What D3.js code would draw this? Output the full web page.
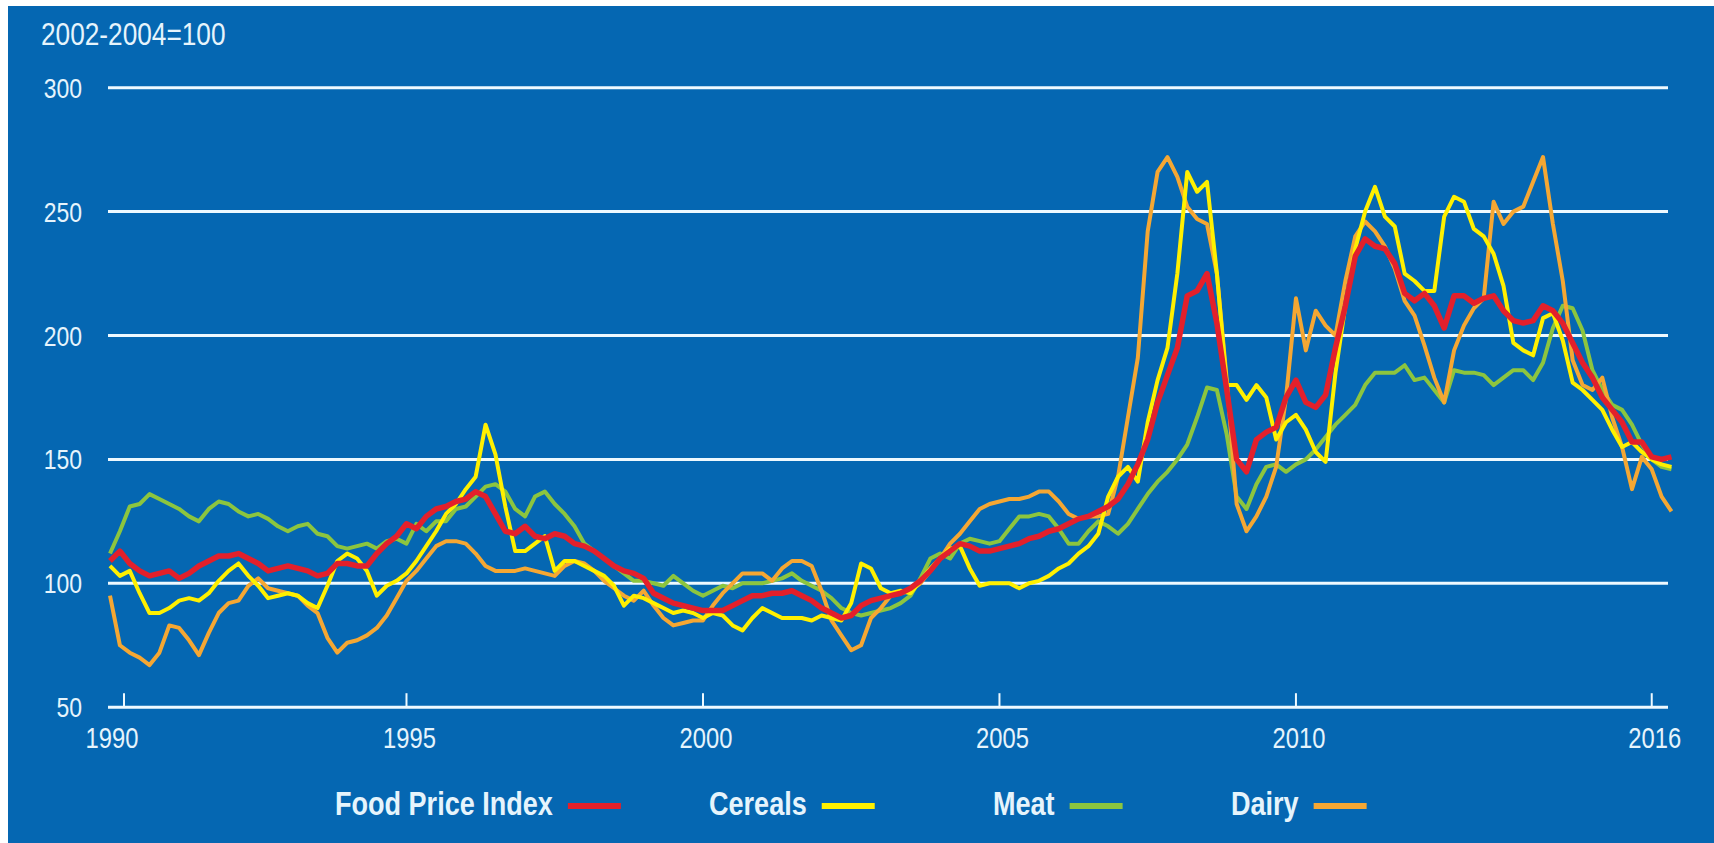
<!DOCTYPE html>
<meta charset="utf-8">
<head>
    <script src="https://d3js.org/d3.v7.min.js"></script>
    <style>
        body {
            margin: 0;
            background: #fff;
        }

        svg text {
            font-family: "Liberation Sans", Arial, sans-serif;
            fill: #e6f4fc;
        }
    </style>
    <title>FAO Food Price Index</title>
</head>
<body>
<svg id="chart" width="1714" height="843"></svg>

<script>

    // every two months, Jan 1990 .. May 2016
    var months = d3.range(0, 159).map(function (i) {
        return 1990 + i / 6;
    });

    var tickYears = [1990, 1995, 2000, 2005, 2010, 2016];
    var yTicks = [50, 100, 150, 200, 250, 300];

    var foodPriceIndex = [
        109, 113, 108, 105, 103, 104,
        105, 102, 104, 107, 109, 111,
        111, 112, 110, 108, 105, 106,
        107, 106, 105, 103, 104, 108,
        108, 107, 107, 112, 116, 119,
        124, 122, 127, 130, 131, 133,
        134, 137, 135, 128, 121, 120,
        123, 119, 118, 120, 119, 116,
        115, 113, 110, 107, 105, 104,
        102, 96, 94, 92, 91, 90,
        89, 89, 89, 91, 93, 95,
        95, 96, 96, 97, 95, 93,
        90, 88, 86, 87, 91, 93,
        94, 95, 96, 98, 101, 105,
        110, 113, 116, 115, 113, 113,
        114, 115, 116, 118, 119, 121,
        122, 124, 126, 127, 129, 131,
        134, 140, 148, 158, 173, 184,
        195, 216, 218, 225, 205, 178,
        150, 145, 158, 161, 163, 175,
        182, 173, 171, 176, 195, 212,
        232, 239, 236, 235, 229, 217,
        214, 217, 212, 203, 216, 216,
        213, 215, 216, 210, 206, 205,
        206, 212, 210, 205, 197, 189,
        183, 175, 170, 165, 157, 157,
        151, 150, 151
    ];

    var cereals = [
        107, 103, 105, 96, 88, 88,
        90, 93, 94, 93, 96, 101,
        105, 108, 103, 99, 94, 95,
        96, 95, 92, 90, 99, 109,
        112, 110, 105, 95, 99, 101,
        104, 109, 115, 121, 128, 132,
        138, 143, 164, 152, 131, 113,
        113, 116, 119, 105, 109, 109,
        107, 105, 103, 99, 91, 95,
        94, 92, 90, 88, 89, 88,
        86, 88, 87, 83, 81, 86,
        90, 88, 86, 86, 86, 85,
        87, 86, 85, 92, 108, 106,
        98, 96, 97, 96, 101, 106,
        110, 114, 115, 106, 99, 100,
        100, 100, 98, 100, 101, 103,
        106, 108, 112, 115, 120, 135,
        143, 147, 141, 165, 182, 195,
        225, 266, 258, 262, 225, 180,
        180, 174, 180, 175, 158, 165,
        168, 162, 153, 149, 185, 212,
        235, 250, 260, 248, 244, 225,
        222, 218, 218, 248, 256, 254,
        243, 240, 233, 220, 197, 194,
        192, 207, 209, 198, 181, 178,
        174, 170, 162, 155, 157, 153,
        150, 148, 147
    ];

    var meat = [
        112, 121, 131, 132, 136, 134,
        132, 130, 127, 125, 130, 133,
        132, 129, 127, 128, 126, 123,
        121, 123, 124, 120, 119, 115,
        114, 115, 116, 114, 117, 118,
        116, 124, 121, 125, 125, 130,
        131, 135, 139, 140, 137, 130,
        127, 135, 137, 132, 128, 123,
        116, 113, 110, 107, 104, 101,
        101, 100, 99, 103, 100, 97,
        95, 97, 99, 98, 100, 100,
        100, 101, 102, 104, 101, 99,
        97, 94, 90, 88, 87, 88,
        89, 90, 92, 95, 102, 110,
        112, 110, 116, 118, 117, 116,
        117, 122, 127, 127, 128, 127,
        122, 116, 116, 121, 125, 123,
        120, 124, 130, 136, 141, 145,
        150, 156, 167, 179, 178, 160,
        135, 130, 140, 147, 148, 145,
        148, 150, 154, 159, 164, 168,
        172, 180, 185, 185, 185, 188,
        182, 183, 178, 173, 186, 185,
        185, 184, 180, 183, 186, 186,
        182, 189, 203, 212, 211, 202,
        186, 178, 172, 170, 164, 156,
        150, 147, 146
    ];

    var dairy = [
        95, 75, 72, 70, 67, 72,
        83, 82, 77, 71, 80, 88,
        92, 93, 99, 102, 98, 97,
        96, 95, 91, 88, 78, 72,
        76, 77, 79, 82, 87, 94,
        101, 105, 110, 115, 117, 117,
        116, 112, 107, 105, 105, 105,
        106, 105, 104, 103, 107, 109,
        108, 105, 101, 98, 95, 93,
        97, 91, 86, 83, 84, 85,
        85, 91, 96, 100, 104, 104,
        104, 101, 106, 109, 109, 107,
        97, 85, 79, 73, 75, 86,
        90, 95, 96, 97, 100, 105,
        110, 116, 120, 125, 130, 132,
        133, 134, 134, 135, 137, 137,
        133, 128, 126, 127, 127, 128,
        143, 167, 191, 242, 266, 272,
        264, 252, 247, 245, 225, 182,
        132, 121, 127, 135, 147, 175,
        215, 194, 210, 204, 200, 222,
        240, 246, 242, 236, 227, 214,
        208, 196, 183, 173, 194, 204,
        211, 215, 254, 245, 250, 252,
        262, 272, 245, 222, 190, 180,
        178, 183, 167, 155, 138, 151,
        146, 135, 129
    ];

    var seriesNames = ["Food Price Index", "Cereals", "Meat", "Dairy"];
    var seriesColors = ["#e3202b", "#fff000", "#8cc53f", "#f5a733"];
    var seriesValues = [foodPriceIndex, cereals, meat, dairy];

    var svg = d3.select("#chart");

    // condensed look: squeeze a normal sans horizontally
    var squeeze = 0.82;

    function label(parent, px, py, str, size, anchor, weight) {
        return parent.append("text")
            .attr("transform", "translate(" + px + "," + py + ") scale(" + squeeze + ",1)")
            .attr("text-anchor", anchor || "start")
            .style("font-size", size + "px")
            .style("font-weight", weight || "normal")
            .text(str);
    }

    // blue panel
    svg.append("rect")
        .attr("x", 8)
        .attr("y", 6)
        .attr("width", 1706)
        .attr("height", 837)
        .attr("fill", "#0567b2");

    var x = d3.scaleLinear()
        .domain([1990, 2016 + 2 / 6])
        .range([110, 1671.5]);

    var y = d3.scaleLinear()
        .domain([50, 300])
        .range([707.2, 87.7]);

    var plotLeft = 108, plotRight = 1668;

    // horizontal grid lines (the 50 line is the axis)
    svg.append("g")
        .selectAll("line")
        .data(yTicks)
        .enter().append("line")
        .attr("x1", plotLeft)
        .attr("x2", plotRight)
        .attr("y1", function (d) { return y(d); })
        .attr("y2", function (d) { return y(d); })
        .attr("stroke", "#eef9ff")
        .attr("stroke-width", 3);

    var yLabels = svg.append("g");
    yTicks.forEach(function (d) {
        label(yLabels, 82, y(d) + 10, d, 28, "end");
    });

    label(svg, 41, 45, "2002-2004=100", 32);

    // x ticks: the first one sits a little inside the axis start
    var tickNudge = function (d, i) { return i === 0 ? 14 : 0; };
    var labelNudge = function (d, i) { return i === 0 ? 2 : 3; };

    svg.append("g")
        .selectAll("line")
        .data(tickYears)
        .enter().append("line")
        .attr("x1", function (d, i) { return x(d) + tickNudge(d, i); })
        .attr("x2", function (d, i) { return x(d) + tickNudge(d, i); })
        .attr("y1", y(50))
        .attr("y2", y(50) - 14)
        .attr("stroke", "#eef9ff")
        .attr("stroke-width", 2);

    var xLabels = svg.append("g");
    tickYears.forEach(function (d, i) {
        label(xLabels, x(d) + labelNudge(d, i), 748, d, 29, "middle");
    });

    // series lines, food price index drawn last
    var line = d3.line()
        .x(function (d) { return x(d[0]); })
        .y(function (d) { return y(d[1]); });

    var drawOrder = [2, 3, 1, 0];
    svg.append("g")
        .selectAll("path")
        .data(drawOrder)
        .enter().append("path")
        .attr("d", function (s) {
            return line(months.map(function (m, i) { return [m, seriesValues[s][i]]; }));
        })
        .attr("fill", "none")
        .attr("stroke", function (s) { return seriesColors[s]; })
        .attr("stroke-width", function (s) { return s === 0 ? 5.5 : 4; })
        .attr("stroke-linejoin", "round");

    // legend
    var legendX = [335, 709, 993, 1231];
    var legend = svg.append("g").attr("class", "legend");

    seriesNames.forEach(function (name, i) {
        var t = label(legend, legendX[i], 815, name, 33, "start", "bold");
        var w = t.node().getComputedTextLength() * squeeze;
        legend.append("line")
            .attr("x1", legendX[i] + w + 15)
            .attr("x2", legendX[i] + w + 68)
            .attr("y1", 806)
            .attr("y2", 806)
            .attr("stroke", seriesColors[i])
            .attr("stroke-width", 6);
    });

</script>
</body>
